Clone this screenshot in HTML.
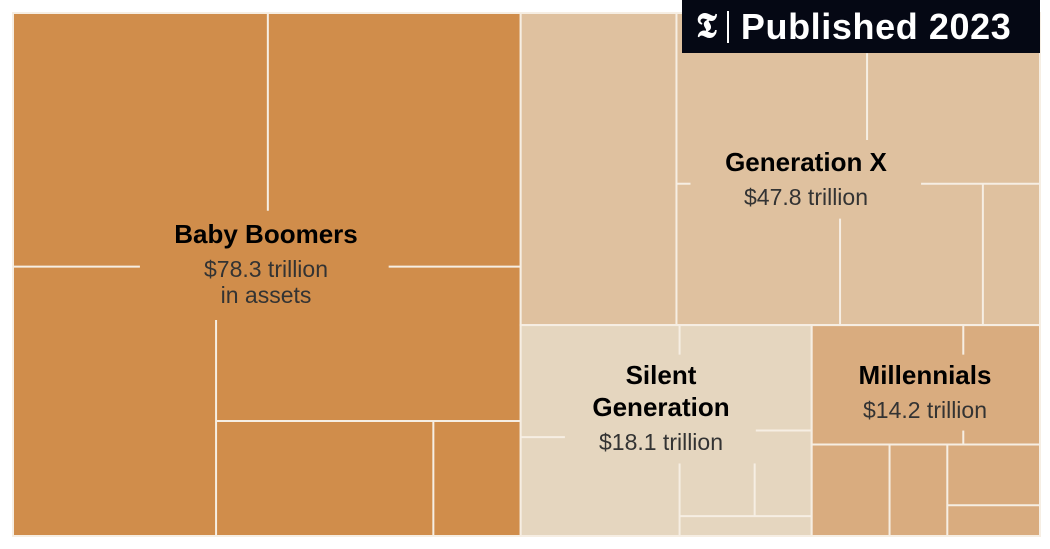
<!DOCTYPE html>
<html><head><meta charset="utf-8"><style>
body{margin:0;width:1050px;height:549px;background:#fff;overflow:hidden;font-family:"Liberation Sans",sans-serif;position:relative}
svg{position:absolute;left:0;top:0}
.badge{position:absolute;left:682px;top:0;width:358px;height:53px;background:#050814;color:#fff;display:flex;align-items:center}
</style></head><body>
<svg id="chart" width="1050" height="549"></svg>
<div class="badge">
<span style="font-family:'Liberation Serif',serif;font-weight:bold;font-size:34px;margin-left:14px">𝕿</span>
<span style="display:inline-block;width:2px;height:32px;background:#fff;margin:0 12px 0 10px"></span>
<span style="font-weight:bold;font-size:36px;letter-spacing:0.6px">Published 2023</span>
</div>
<script>
const generations=["Baby Boomers","Generation X","Silent Generation","Millennials"];
const assets=[78.3,47.8,18.1,14.2];
const X0=13,Y0=13,W=1027,H=523;
const colors=["#d08d4b","#dfc19f","#e5d6bf","#d9ac7f"];
const lineC="#f6eee3";
const svg=document.getElementById('chart');
const NS="http://www.w3.org/2000/svg";
function el(t,a){const e=document.createElementNS(NS,t);for(const k in a)e.setAttribute(k,a[k]);svg.appendChild(e);return e;}
const total=assets.reduce((a,b)=>a+b,0);
const bw=W*assets[0]/total;
const rest=total-assets[0];
const gh=H*assets[1]/rest;
const sw=(W-bw)*assets[2]/(assets[2]+assets[3]);
const rects=[
 [X0,Y0,bw,H],
 [X0+bw,Y0,W-bw,gh],
 [X0+bw,Y0+gh,sw,H-gh],
 [X0+bw+sw,Y0+gh,W-bw-sw,H-gh]
];
const slugs=["baby-boomers","generation-x","silent-generation","millennials"];
rects.forEach((r,i)=>{
 const e=el('rect',{x:r[0],y:r[1],width:r[2],height:r[3],fill:colors[i],stroke:lineC,'stroke-width':2});
 
 
});
const subLines=[
 [0,.502,0,.502,.378],[0,0,.485,.25,.485],[0,.74,.485,1,.485],[0,.400,.587,.400,1],[0,.400,.780,1,.780],[0,.828,.780,.828,1],
 [1,.3,0,.3,1],[1,.3,.547,.327,.547],[1,.667,.129,.667,.407],[1,.771,.547,1,.547],[1,.89,.547,.89,1],[1,.615,.659,.615,1],
 [2,.546,0,.546,.14],[2,0,.531,.152,.531],[2,.808,.5,1,.5],[2,.546,.656,.546,1],[2,.804,.656,.804,.906],[2,.546,.906,1,.906],
 [3,.664,0,.664,.14],[3,.664,.5,.664,.566],[3,0,.566,1,.566],[3,.341,.566,.341,1],[3,.594,.566,.594,1],[3,.594,.854,1,.854]
];
subLines.forEach(l=>{
 const r=rects[l[0]];
 const e=el('line',{x1:r[0]+l[1]*r[2],y1:r[1]+l[2]*r[3],x2:r[0]+l[3]*r[2],y2:r[1]+l[4]*r[3],stroke:lineC,'stroke-width':2});
 
 
});
const labels=[
 [["Baby Boomers"],["$"+assets[0]+" trillion","in assets"],266,243],
 [["Generation X"],["$"+assets[1]+" trillion"],806,171],
 [["Silent","Generation"],["$"+assets[2]+" trillion"],661,384],
 [["Millennials"],["$"+assets[3]+" trillion"],925,384]
];
labels.forEach((L,i)=>{
 let y=L[3];
 L[0].forEach(t=>{const e=el('text',{x:L[2],y:y,'text-anchor':'middle','font-size':26,'font-weight':'bold',fill:'#000'});e.textContent=t;
 
 y+=32;});
 y+=2;
 L[1].forEach(t=>{const e=el('text',{x:L[2],y:y,'text-anchor':'middle','font-size':23,fill:'#333'});e.textContent=t;
 
 y+=26;});
});
</script>
</body></html>
